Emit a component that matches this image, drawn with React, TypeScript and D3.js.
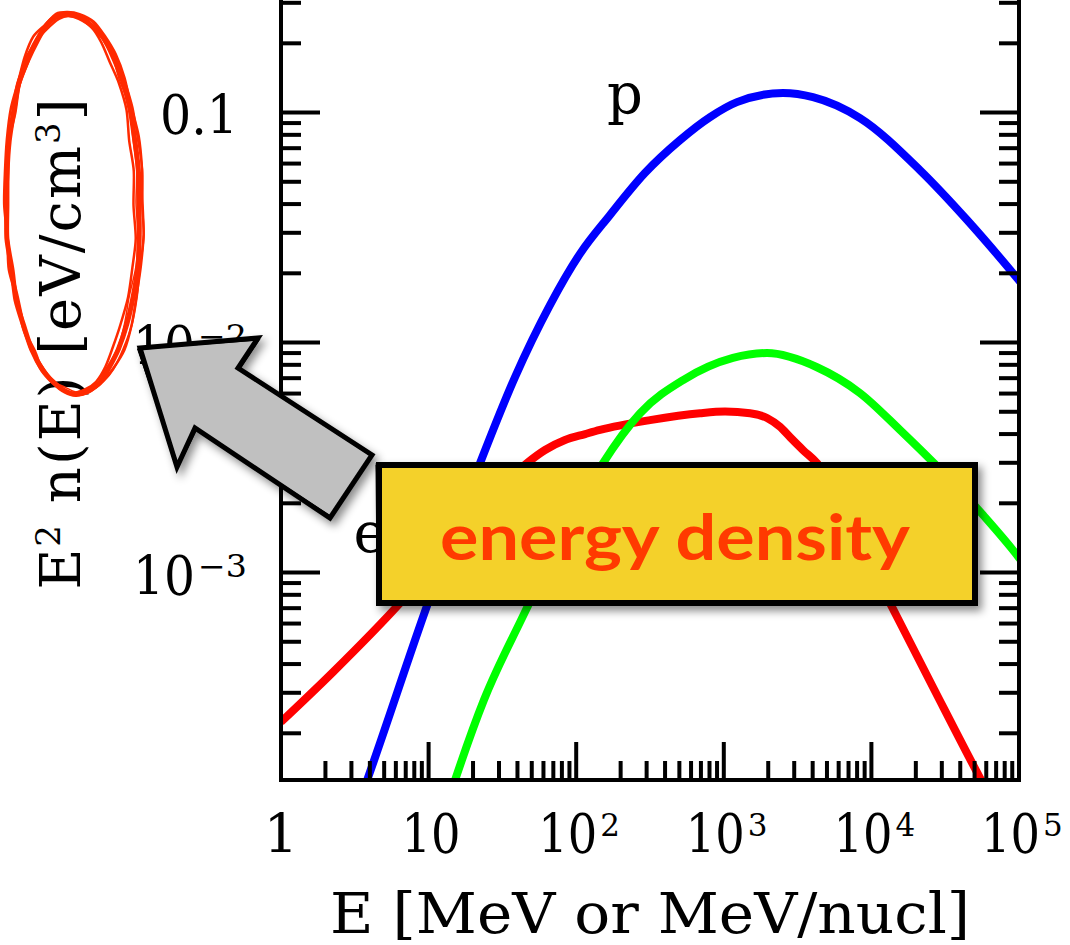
import React from "react";
import * as d3 from "d3";

// ---- data ----
const protonE = [3.53, 3.83, 9.9, 22.3, 38.5, 66.4, 106, 169, 292, 505, 807, 1228, 2518, 4020, 8370, 21300, 44500, 96800, 110000];
const protonN = [1.08e-4, 1.25e-4, 7.36e-4, 2.99e-3, 7.08e-3, 1.455e-2, 2.43e-2, 3.58e-2, 5.46e-2, 7.59e-2, 0.0956, 0.111, 0.1216, 0.1167, 0.0946, 0.0562, 0.0341, 0.0191, 0.0173];

const nucleiE = [14.0, 15.1, 23.7, 42.3, 80.2, 152, 271, 530, 1153, 1963, 4280, 8370, 15600, 57000, 100000, 110000];
const nucleiN = [1.08e-4, 1.25e-4, 2.79e-4, 6.21e-4, 1.41e-3, 2.99e-3, 4.93e-3, 6.87e-3, 8.57e-3, 9.0e-3, 7.81e-3, 6.03e-3, 4.17e-3, 1.78e-3, 1.16e-3, 1.07e-3];

const electronE = [1, 2.25, 6.4, 17.6, 46.4, 61.5, 84.0, 115, 145, 316, 690, 1019, 1506, 1963, 2403, 2810, 3440, 4280, 7740, 13370, 26100, 54400, 62700];
const electronN = [2.24e-4, 3.69e-4, 7.36e-4, 1.58e-3, 2.99e-3, 3.41e-3, 3.77e-3, 4.0e-3, 4.17e-3, 4.6e-3, 4.93e-3, 5.01e-3, 4.93e-3, 4.7e-3, 4.3e-3, 3.88e-3, 3.41e-3, 2.99e-3, 1.46e-3, 7.36e-4, 3.18e-4, 1.28e-4, 1.08e-4];

const xTickExps = [0, 1, 2, 3, 4, 5];
const yTickLabels = [
  { v: 0.1, base: "0.1", sup: "" },
  { v: 0.01, base: "10", sup: "−2" },
  { v: 0.001, base: "10", sup: "−3" },
];
const xTitle = "E [MeV or MeV/nucl]";
const boxText = "energy density";

// ---- layout ----
const W = 1070, H = 945;
const L = 281, R = 1019, B = 780, T = -20;
const FONT = "'DejaVu Serif', serif";

function rng(seed: number) {
  let s = seed;
  return () => {
    s = (s * 16807) % 2147483647;
    return s / 2147483647;
  };
}
function sketchPoly(pts: number[][], seed: number, amp: number) {
  const r = rng(seed);
  const out = pts.map(([x, y]) => [x + (r() - 0.5) * amp, y + (r() - 0.5) * amp]);
  return "M" + out.map((p) => p[0].toFixed(1) + "," + p[1].toFixed(1)).join("L") + "Z";
}
function sketchEllipse(cx: number, cy: number, rx: number, ry: number, rot: number, seed: number, amp: number) {
  const r = rng(seed);
  const pts: [number, number][] = [];
  const n = 36;
  const c = Math.cos(rot), s = Math.sin(rot);
  for (let i = 0; i < n; i++) {
    const a = (i / n) * Math.PI * 2;
    const ex = rx * Math.cos(a) + (r() - 0.5) * amp;
    const ey = ry * Math.sin(a) + (r() - 0.5) * amp;
    pts.push([cx + ex * c - ey * s, cy + ex * s + ey * c]);
  }
  return d3.line().curve(d3.curveCardinalClosed.tension(0.2))(pts) as string;
}

export default function App() {
  const x = d3.scaleLog().domain([1, 1e5]).range([L, R]);
  const y = d3.scaleLog().domain([1.253e-4, 0.377]).range([B, T]);

  const line = d3
    .line<[number, number]>()
    .x((d) => x(d[0]))
    .y((d) => y(d[1]))
    .curve(d3.curveMonotoneX);

  const series = [
    { e: electronE, n: electronN, color: "#ff0000" },
    { e: nucleiE, n: nucleiN, color: "#00ff00" },
    { e: protonE, n: protonN, color: "#0000ff" },
  ];

  const xTicks: { v: number; major: boolean }[] = [];
  for (let k = 0; k <= 4; k++)
    for (let m = 1; m <= 9; m++) xTicks.push({ v: m * Math.pow(10, k), major: m === 1 });
  const yTicks: { v: number; major: boolean }[] = [];
  for (let k = -4; k <= 0; k++)
    for (let m = 1; m <= 9; m++) {
      const v = m * Math.pow(10, k);
      if (y(v) >= T && y(v) <= B) yTicks.push({ v, major: m === 1 });
    }

  const arrowPts = [
    [140, 348], [258, 338], [238, 368], [372, 455], [330, 518], [195, 428], [177, 467],
  ];
  const box = { x0: 379, y0: 465, x1: 975, y1: 603 };
  const boxPts = [[box.x0, box.y0], [box.x1, box.y0], [box.x1, box.y1], [box.x0, box.y1]];

  return (
    <svg width={W} height={H} style={{ position: "absolute", left: 0, top: 0, background: "#fff" }}>
      <defs>
        <clipPath id="plot">
          <rect x={L} y={T} width={R - L} height={B - T} />
        </clipPath>
        <filter id="shadow" x="-20%" y="-20%" width="150%" height="150%">
          <feDropShadow dx="4" dy="5" stdDeviation="4" floodColor="#000" floodOpacity="0.45" />
        </filter>
      </defs>

      {/* curves */}
      <g clipPath="url(#plot)">
        {series.map((s, i) => (
          <path
            key={i}
            d={line(s.e.map((e, j) => [e, s.n[j]] as [number, number])) as string}
            fill="none"
            stroke={s.color}
            strokeWidth={8}
          />
        ))}
      </g>

      {/* axes frame */}
      <g stroke="#000" strokeWidth={4} fill="none">
        <line x1={L} y1={T} x2={L} y2={B} />
        <line x1={R} y1={T} x2={R} y2={B} />
        <line x1={L - 2} y1={B} x2={R + 2} y2={B} />
        {xTicks.map((t, i) =>
          x(t.v) > L + 1 && x(t.v) < R - 1 ? (
            <line key={"x" + i} x1={x(t.v)} x2={x(t.v)} y1={B} y2={B - (t.major ? 38 : 19)} />
          ) : null
        )}
        {yTicks.map((t, i) => (
          <g key={"y" + i}>
            <line x1={L} x2={L + (t.major ? 39 : 20)} y1={y(t.v)} y2={y(t.v)} />
            <line x1={R} x2={R - (t.major ? 39 : 20)} y1={y(t.v)} y2={y(t.v)} />
          </g>
        ))}
      </g>

      {/* tick labels */}
      <g fontFamily={FONT} fill="#000">
        {xTickExps.map((k) => {
          const px = x(Math.pow(10, k));
          if (k === 0)
            return (
              <text key={k} x={px} y={853} fontSize={54} textAnchor="middle">1</text>
            );
          if (k === 1)
            return (
              <text key={k} x={px - 27} y={853} fontSize={54} textLength={59} lengthAdjust="spacingAndGlyphs">10</text>
            );
          return (
            <g key={k}>
              <text x={px - 38} y={853} fontSize={54} textLength={59} lengthAdjust="spacingAndGlyphs">10</text>
              <text x={px + 24} y={836} fontSize={31}>{String(k)}</text>
            </g>
          );
        })}
        {yTickLabels.map((t, i) => {
          const py = y(t.v);
          if (!t.sup)
            return (
              <text key={i} x={160} y={py + 21} fontSize={54} textLength={78} lengthAdjust="spacingAndGlyphs">{t.base}</text>
            );
          return (
            <g key={i}>
              <text x={133} y={py + 22} fontSize={54} textLength={62} lengthAdjust="spacingAndGlyphs">{t.base}</text>
              <text x={198} y={py + 4} fontSize={31} textLength={49} lengthAdjust="spacingAndGlyphs">{t.sup}</text>
            </g>
          );
        })}
        {/* axis titles */}
        <text x={650} y={933} fontSize={56} textAnchor="middle" textLength={640} lengthAdjust="spacingAndGlyphs">{xTitle}</text>
        <text transform="translate(80,343) rotate(-90)" fontSize={56} textAnchor="middle" letterSpacing={2}>
          E<tspan fontSize={34} dy={-20}>2</tspan>
          <tspan dy={20}> n(E) [eV/cm</tspan>
          <tspan fontSize={34} dy={-20}>3</tspan>
          <tspan dy={20}>]</tspan>
        </text>
        {/* curve labels */}
        <text x={625} y={113} fontSize={56} textAnchor="middle">p</text>
        <text x={370} y={552} fontSize={56} textAnchor="middle">e</text>
      </g>

      {/* red ellipse */}
      <g fill="none" stroke="#ff2a00" strokeLinecap="round">
        <path d={sketchEllipse(73, 204, 67, 190, -0.02, 11, 2)} strokeWidth={5} />
        <path d={sketchEllipse(74, 203, 70, 192, -0.03, 23, 3)} strokeWidth={2.5} />
        <path d={sketchEllipse(71, 205, 64, 188, -0.01, 37, 3)} strokeWidth={2.5} />
        <path d={sketchEllipse(75, 204, 69, 191, -0.025, 51, 4)} strokeWidth={2} />
        <path d={sketchEllipse(72, 203, 66, 189, -0.015, 67, 4)} strokeWidth={1.5} />
      </g>

      {/* arrow */}
      <g filter="url(#shadow)">
        <path d={sketchPoly(arrowPts, 1, 0)} fill="#c0c0c0" stroke="#000" strokeWidth={5} strokeLinejoin="miter" />
      </g>
      <g fill="none" stroke="#000">
        <path d={sketchPoly(arrowPts, 7, 4)} strokeWidth={1.5} />
        <path d={sketchPoly(arrowPts, 13, 4)} strokeWidth={1.2} />
      </g>

      {/* box */}
      <g filter="url(#shadow)">
        <rect x={box.x0} y={box.y0} width={box.x1 - box.x0} height={box.y1 - box.y0} fill="#f4d12b" stroke="#000" strokeWidth={6} />
      </g>
      <g fill="none" stroke="#000">
        <path d={sketchPoly(boxPts, 5, 5)} strokeWidth={2} />
        <path d={sketchPoly(boxPts, 17, 5)} strokeWidth={1.5} />
      </g>
      <text x={675} y={560} fontSize={64} fontWeight="bold" fill="#ff3a00" textAnchor="middle" fontFamily="'Comic Sans MS', Lato, sans-serif" textLength={470} lengthAdjust="spacingAndGlyphs">
        {boxText}
      </text>
    </svg>
  );
}
